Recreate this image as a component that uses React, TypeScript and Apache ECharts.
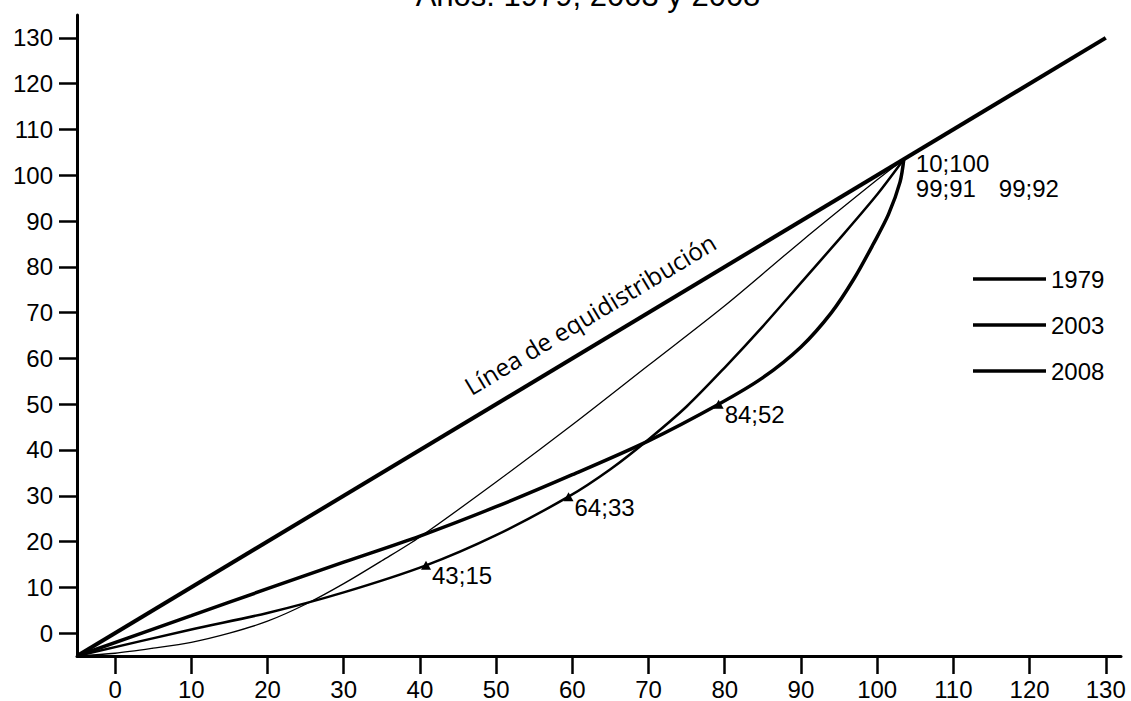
import React, { useEffect, useRef } from 'react';
import * as echarts from 'echarts';

const FONT = "'Liberation Sans', Arial, sans-serif";

// Tick values shown on both axes
const axisTicks = [0, 10, 20, 30, 40, 50, 60, 70, 80, 90, 100, 110, 120, 130];

// Equidistribution line
const equiX = [-5, 130];
const equiY = [-5, 130];

// 1979 curve
const c1979X = [-5, 10, 20, 30, 40, 50, 60, 70, 79.2, 85, 90, 94, 97, 99.5, 101.5, 103, 103.5];
const c1979Y = [-5, 3.8, 9.7, 15.5, 21.2, 27.6, 34.6, 42, 50, 55.8, 62.5, 70, 77.5, 85, 91.5, 98.5, 103.5];

// 2003 curve
const c2003X = [-5, 10, 20, 30, 40.8, 50, 59.5, 65, 70, 75, 80, 85, 90, 95, 100, 103.5];
const c2003Y = [-5, 0.8, 4.4, 8.9, 14.8, 21.4, 29.8, 35.8, 42.3, 49.5, 58, 67, 76.5, 86, 95.8, 103.5];

// 2008 curve
const c2008X = [-5, 0, 5, 10, 15, 20, 25, 30, 35, 40, 50, 60, 70, 80, 90, 100, 103.5];
const c2008Y = [-5, -4.4, -3.3, -2.0, 0, 2.6, 6.3, 10.8, 15.8, 21, 33, 45.5, 58.5, 71.5, 85.5, 99, 103.5];

// Marked points with their labels
const markX = [40.8, 59.5, 79.2];
const markY = [14.8, 29.8, 50];
const markLabels = ['43;15', '64;33', '84;52'];

// Labels at the meeting point
const meetX = 103.5;
const meetY = 103.5;
const meetLabels = ['10;100', '99;91', '99;92'];

const legendNames = ['1979', '2003', '2008'];

const zip = (xs: number[], ys: number[]) => xs.map((x, i) => [x, ys[i]]);

export default function App() {
  const ref = useRef<HTMLDivElement>(null);
  useEffect(() => {
    const chart = echarts.init(ref.current!, null, { renderer: 'svg' });
    const option: any = {
      animation: false,
      backgroundColor: '#fff',
      grid: { left: 77, right: 10, top: 15, bottom: 44 },
      xAxis: {
        type: 'value',
        min: -5,
        max: 132,
        axisLine: { show: true, onZero: false, lineStyle: { color: '#000', width: 3 } },
        axisTick: { show: true, length: 18, customValues: axisTicks, lineStyle: { color: '#000', width: 2.5 } },
        axisLabel: { customValues: axisTicks, color: '#000', fontSize: 24, fontFamily: FONT, margin: 21 },
        splitLine: { show: false },
      },
      yAxis: {
        type: 'value',
        min: -5,
        max: 135,
        axisLine: { show: true, onZero: false, lineStyle: { color: '#000', width: 3 } },
        axisTick: { show: true, length: 18, customValues: axisTicks, lineStyle: { color: '#000', width: 2.5 } },
        axisLabel: { customValues: axisTicks, color: '#000', fontSize: 24, fontFamily: FONT, margin: 24 },
        splitLine: { show: false },
      },
      legend: {
        orient: 'vertical',
        left: 968,
        top: 262,
        icon: 'rect',
        itemWidth: 73,
        itemHeight: 3.5,
        itemGap: 22,
        itemStyle: { color: '#000' },
        textStyle: { color: '#000', fontSize: 24, fontFamily: FONT, lineHeight: 24 },
        data: legendNames,
      },
      graphic: [
        {
          type: 'text',
          x: 588,
          y: -4.5,
          style: {
            text: 'Años: 1979, 2003 y 2008',
            fontSize: 31,
            fontFamily: FONT,
            fill: '#000',
            align: 'center',
            verticalAlign: 'middle',
          },
        },
        {
          type: 'text',
          x: 590,
          y: 314,
          rotation: (31 * Math.PI) / 180,
          style: {
            text: 'Línea de equidistribución',
            fontSize: 24.5,
            fontFamily: "'Open Sans', 'Noto Sans', sans-serif",
            fill: '#000',
            align: 'center',
            verticalAlign: 'middle',
          },
        },
      ],
      series: [
        {
          name: 'Línea de equidistribución',
          type: 'line',
          data: zip(equiX, equiY),
          symbol: 'none',
          lineStyle: { color: '#000', width: 4 },
        },
        {
          name: legendNames[0],
          type: 'line',
          data: zip(c1979X, c1979Y),
          symbol: 'none',
          smooth: 0.3,
          lineStyle: { color: '#000', width: 3.5 },
          itemStyle: { color: '#000' },
        },
        {
          name: legendNames[1],
          type: 'line',
          data: zip(c2003X, c2003Y),
          symbol: 'none',
          smooth: 0.3,
          lineStyle: { color: '#000', width: 2.5 },
          itemStyle: { color: '#000' },
        },
        {
          name: legendNames[2],
          type: 'line',
          data: zip(c2008X, c2008Y),
          symbol: 'none',
          smooth: 0.3,
          lineStyle: { color: '#000', width: 1.3 },
          itemStyle: { color: '#000' },
        },
        {
          name: 'marcas',
          type: 'scatter',
          symbol: 'triangle',
          symbolSize: [10, 9],
          itemStyle: { color: '#000', opacity: 1 },
          z: 5,
          data: markX.map((x, i) => [x, markY[i]]),
          label: {
            show: true,
            position: [11, 3],
            formatter: (p: any) => markLabels[p.dataIndex],
            color: '#000',
            fontSize: 24,
            fontFamily: FONT,
          },
        },
        {
          name: 'encuentro',
          type: 'scatter',
          symbolSize: 0,
          itemStyle: { color: '#000', opacity: 1 },
          data: [
            { value: [meetX, meetY], label: { position: [12, -8] } },
            { value: [meetX, meetY], label: { position: [12, 17] } },
            { value: [meetX, meetY], label: { position: [95, 17] } },
          ],
          label: {
            show: true,
            formatter: (p: any) => meetLabels[p.dataIndex],
            color: '#000',
            fontSize: 24,
            fontFamily: FONT,
          },
        },
      ],
    };
    chart.setOption(option);
    return () => chart.dispose();
  }, []);
  return (
    <div
      ref={ref}
      style={{ position: 'fixed', left: 0, top: 0, width: 1131, height: 701, background: '#fff' }}
    />
  );
}
